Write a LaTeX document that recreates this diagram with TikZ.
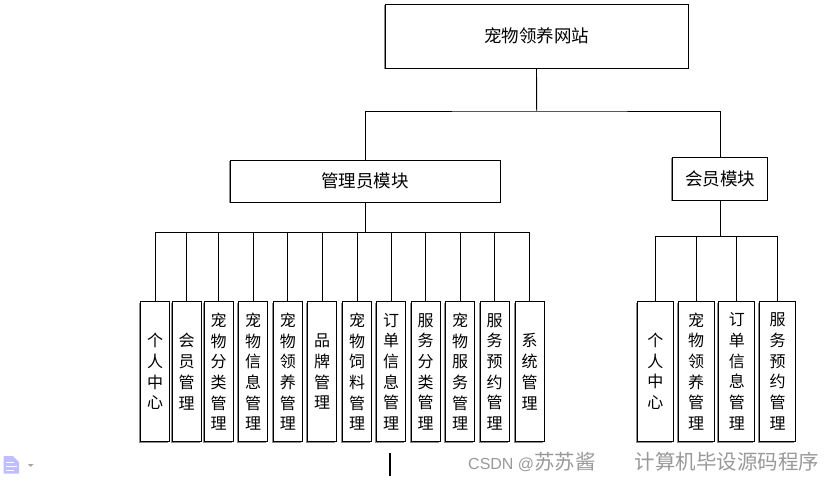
\documentclass[tikz,border=0pt]{standalone}
\usepackage{fontspec}
\setmainfont{Noto Sans CJK SC}
\newfontfamily\wmlatin{Liberation Sans}
\usetikzlibrary{shadows}
\begin{document}
\begin{tikzpicture}[x=1pt,y=-1pt,
  box/.style={draw=black, line width=0.9pt, fill=white, inner sep=0pt,
    drop shadow={shadow xshift=-1.4pt, shadow yshift=-1.4pt, opacity=1, fill=black!45}},
  topbox/.style={box, minimum width=303pt, minimum height=64pt, font=\fontsize{17.5}{20}\selectfont},
  modbox/.style={box, minimum height=42pt, font=\fontsize{17.5}{20}\selectfont},
  leafbox/.style={box, minimum width=29pt, minimum height=140pt, align=center,
    font=\fontsize{16}{20.7}\selectfont},
  leafwide/.style={leafbox, minimum width=36pt},
  link/.style={draw=black, line width=0.9pt},
  wmtext/.style={text=black!40, font=\fontsize{20.5}{22}\selectfont, inner sep=0pt, anchor=west}
]
\useasboundingbox (0,0) rectangle (829,481);

% top and modules
\node[topbox] (top) at (536.5,36) {宠物领养网站};
\node[modbox, minimum width=270pt] (admin) at (365,181) {管理员模块};
\node[modbox, minimum width=95pt, minimum height=43pt] (member) at (720.3,178.5) {会员模块};

\coordinate (j0) at (536.7,111);
\draw[link] (top.south) -- (j0);
\draw[link] (admin.north) |- (j0) -| (member.north);

% admin leaves
\node[leafbox] (a1) at (155,371.7) {个\\人\\中\\心};
\node[leafbox] (a2) at (186.7,371.7) {会\\员\\管\\理};
\node[leafbox] (a3) at (218.6,371.7) {宠\\物\\分\\类\\管\\理};
\node[leafbox] (a4) at (253,371.7) {宠\\物\\信\\息\\管\\理};
\node[leafbox] (a5) at (287.8,371.7) {宠\\物\\领\\养\\管\\理};
\node[leafbox] (a6) at (322.2,371.7) {品\\牌\\管\\理};
\node[leafbox] (a7) at (357,371.7) {宠\\物\\饲\\料\\管\\理};
\node[leafbox] (a8) at (391.2,371.7) {订\\单\\信\\息\\管\\理};
\node[leafbox] (a9) at (425.5,371.7) {服\\务\\分\\类\\管\\理};
\node[leafbox] (a10) at (460,371.7) {宠\\物\\服\\务\\管\\理};
\node[leafbox] (a11) at (494.5,371.7) {服\\务\\预\\约\\管\\理};
\node[leafbox] (a12) at (529.5,371.7) {系\\统\\管\\理};

\coordinate (j1) at (365,232);
\draw[link] (admin.south) -- (j1);
\foreach \n in {a1,a2,a3,a4,a5,a6,a7,a8,a9,a10,a11,a12}
  \draw[link] (\n.north) |- (j1);

% member leaves
\node[leafwide] (m1) at (655.3,371.4) {个\\人\\中\\心};
\node[leafwide] (m2) at (696.2,371.4) {宠\\物\\领\\养\\管\\理};
\node[leafwide] (m3) at (736.8,371.4) {订\\单\\信\\息\\管\\理};
\node[leafwide] (m4) at (777.7,371.4) {服\\务\\预\\约\\管\\理};

\coordinate (j2) at (720.3,236.7);
\draw[link] (member.south) -- (j2);
\foreach \n in {m1,m2,m3,m4}
  \draw[link] (\n.north) |- (j2);

% bottom extras
\fill[blue!25!white] (3.5,456) -- (13,456) -- (19,462) -- (19,473.5) -- (3.5,473.5) -- cycle;
\draw[white, line width=0.8pt] (6,462) -- (14,462) (6,466) -- (17,466) (6,470) -- (14,470);
\fill[black!35] (28,464) -- (33.5,464) -- (30.75,467) -- cycle;
\draw[black, line width=1.5pt] (390,453) -- (390,476);
\node[wmtext] (wm1) at (468,462) {{\wmlatin\fontsize{16}{20}\selectfont CSDN @}苏苏酱};
\node[wmtext] (wm2) at (634.5,462) {计算机毕设源码程序};
\end{tikzpicture}
\end{document}
